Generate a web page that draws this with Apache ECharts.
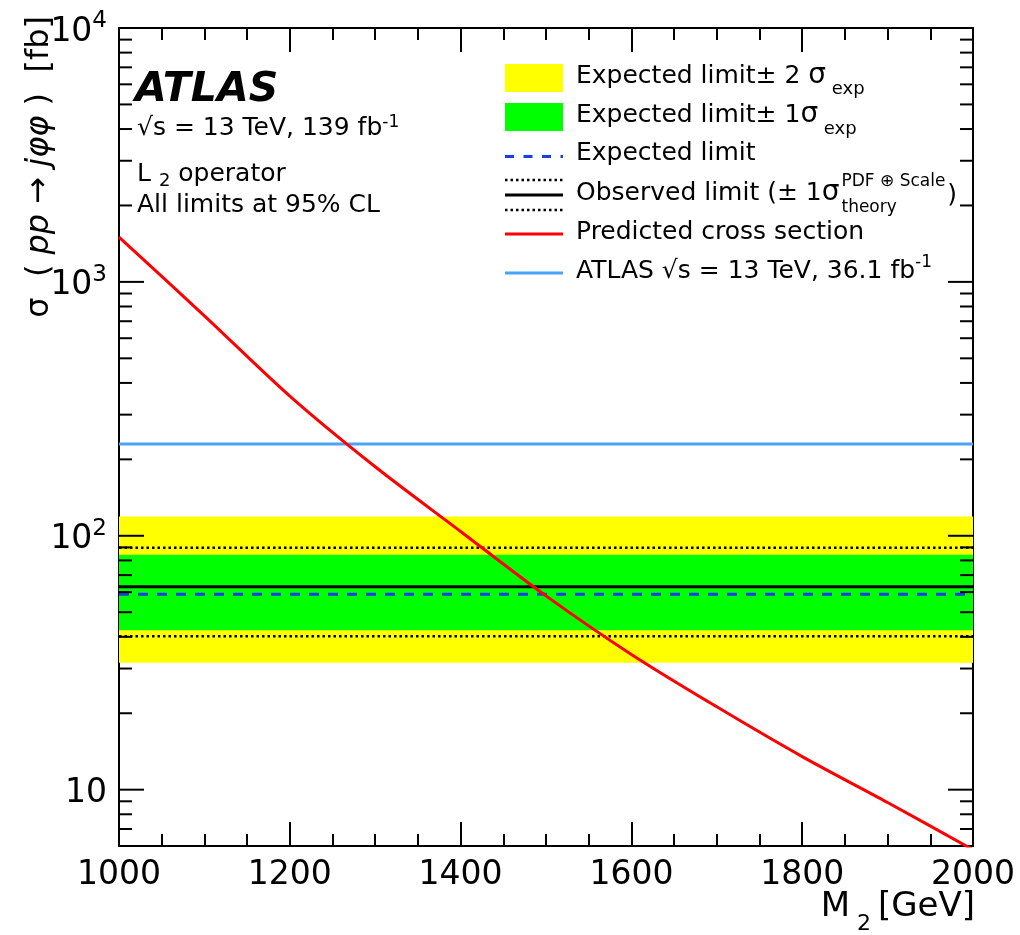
<!DOCTYPE html>
<html>
<head>
<meta charset="utf-8">
<script src="https://cdn.jsdelivr.net/npm/echarts@6/dist/echarts.min.js"></script>
<style>
html, body { margin: 0; padding: 0; background: #fff; }
#chart { width: 1020px; height: 935px; }
</style>
</head>
<body>
<div id="chart"></div>
<script>
// Predicted L2 cross section versus mediator mass M2 (GeV, fb)
const predMass = [1000, 1100, 1200, 1300, 1400, 1500, 1600, 1700, 1800, 1900, 2000];
const predXsec = [1500, 735, 355, 187, 104, 58, 34.1, 21.2, 13.5, 8.9, 5.8];

// Mass-independent limits (fb)
const massRange = [1000, 2000];
const expectedLimit = 58.9;
const expected1Sigma = [42.5, 84.2];
const expected2Sigma = [31.6, 119];
const observedLimit = 63.0;
const observedTheory = [40.2, 89.7];
const atlas36Limit = 230;

// Axis ticks
const xTickStep = 200;
const yMajorTicks = [10, 100, 1000, 10000];
const yMinorTicks = [7, 8, 9, 20, 30, 40, 50, 60, 70, 80, 90,
  200, 300, 400, 500, 600, 700, 800, 900,
  2000, 3000, 4000, 5000, 6000, 7000, 8000, 9000];

const FONT = "'DejaVu Sans', sans-serif";
const BLACK = '#000';

const chart = echarts.init(document.getElementById('chart'), null, { renderer: 'canvas' });

function flatLine(v) {
  return [[massRange[0], v], [massRange[1], v]];
}

function lineSeries(name, v, color, width, dash, z) {
  return {
    name, type: 'line', data: flatLine(v), symbol: 'none', silent: true, z,
    lineStyle: { color, width, type: dash || 'solid' }
  };
}

function bandSeries(name, range, color, z) {
  return {
    name, type: 'custom', silent: true, z,
    data: [[massRange[0], massRange[1], range[0], range[1]]],
    encode: { x: [0, 1], y: [2, 3] },
    renderItem: (params, api) => {
      const a = api.coord([api.value(0), api.value(3)]);
      const b = api.coord([api.value(1), api.value(2)]);
      return { type: 'rect', shape: { x: a[0], y: a[1], width: b[0] - a[0], height: b[1] - a[1] },
               style: { fill: color } };
    }
  };
}

// Log-axis ticks on both the left and right frame edges
const yTickData = yMajorTicks.map(v => [massRange[0], v, 1]).concat(yMinorTicks.map(v => [massRange[0], v, 0]));
const yTickSeries = {
  type: 'custom', silent: true, z: 20,
  data: yTickData, encode: { x: 0, y: 1 },
  renderItem: (params, api) => {
    const v = api.value(1);
    const len = api.value(2) ? 25 : 13;
    const l = api.coord([massRange[0], v]);
    const r = api.coord([massRange[1], v]);
    const st = { stroke: BLACK, lineWidth: 2 };
    return { type: 'group', children: [
      { type: 'line', shape: { x1: l[0], y1: l[1], x2: l[0] + len, y2: l[1] }, style: st },
      { type: 'line', shape: { x1: r[0] - len, y1: r[1], x2: r[0], y2: r[1] }, style: st }
    ] };
  }
};

const xAxisBase = {
  type: 'value', min: massRange[0], max: massRange[1], interval: xTickStep,
  axisLine: { show: true, onZero: false, lineStyle: { color: BLACK, width: 2 } },
  axisTick: { show: true, inside: true, length: 24, lineStyle: { color: BLACK, width: 2 } },
  minorTick: { show: true, splitNumber: 4, length: 12, lineStyle: { color: BLACK, width: 2 } },
  splitLine: { show: false }, minorSplitLine: { show: false }
};

const yAxisBase = {
  type: 'log', logBase: 10, min: 6, max: 10000,
  axisLine: { show: true, onZero: false, lineStyle: { color: BLACK, width: 2 } },
  axisTick: { show: false }, minorTick: { show: false },
  splitLine: { show: false }, minorSplitLine: { show: false }
};

// Measure text so stacked scripts can follow the legend text
const measureCtx = document.createElement('canvas').getContext('2d');
function textWidth(str, size) {
  measureCtx.font = size + 'px ' + FONT;
  return measureCtx.measureText(str).width;
}

function richText(x, y, text, rich, align) {
  return {
    type: 'text', x, y, silent: true, z: 30,
    style: { text, rich, fill: BLACK, fontFamily: FONT, fontSize: 25,
             align: align || 'left', verticalAlign: 'middle' }
  };
}

const R = (size, extra) => Object.assign({ fontSize: size, fontFamily: FONT, fill: BLACK, color: BLACK }, extra || {});

const legX0 = 505, legX1 = 563, legTextX = 576;
const obsMain = 'Observed limit (± 1';
const obsSigmaX = legTextX + textWidth(obsMain, 25);
const obsScriptX = obsSigmaX + textWidth('σ', 28) + 2;
const obsCloseX = obsScriptX + textWidth('PDF ⊕ Scale', 17) + 2;

const graphics = [
  // Experiment label block
  { type: 'text', x: 135, y: 90, silent: true, z: 30,
    style: { text: 'ATLAS', fill: BLACK, fontFamily: FONT, fontSize: 41, fontWeight: 'bold',
             fontStyle: 'italic', align: 'left', verticalAlign: 'middle' } },
  richText(137, 128, '{n|√s = 13 TeV, 139 fb}{p|-1}', { n: R(25), p: R(17, { padding: [0, 0, 10, 0] }) }),
  richText(137, 174, '{n|L }{s|2}{n| operator}', { n: R(25), s: R(18, { padding: [14, 0, 0, 0] }) }),
  richText(137, 205, '{n|All limits at 95% CL}', { n: R(25) }),

  // Legend symbols
  { type: 'rect', z: 30, silent: true, shape: { x: legX0, y: 64, width: legX1 - legX0, height: 28 }, style: { fill: '#ffff00' } },
  { type: 'rect', z: 30, silent: true, shape: { x: legX0, y: 103, width: legX1 - legX0, height: 28 }, style: { fill: '#00ff00' } },
  { type: 'line', z: 30, silent: true, shape: { x1: legX0, y1: 156.5, x2: legX1, y2: 156.5 }, style: { stroke: '#193cf0', lineWidth: 3, lineDash: [9, 9.5] } },
  { type: 'line', z: 30, silent: true, shape: { x1: legX0, y1: 180, x2: legX1, y2: 180 }, style: { stroke: BLACK, lineWidth: 2.5, lineDash: [2.5, 3] } },
  { type: 'line', z: 30, silent: true, shape: { x1: legX0, y1: 195, x2: legX1, y2: 195 }, style: { stroke: BLACK, lineWidth: 3 } },
  { type: 'line', z: 30, silent: true, shape: { x1: legX0, y1: 210, x2: legX1, y2: 210 }, style: { stroke: BLACK, lineWidth: 2.5, lineDash: [2.5, 3] } },
  { type: 'line', z: 30, silent: true, shape: { x1: legX0, y1: 234, x2: legX1, y2: 234 }, style: { stroke: '#ff0000', lineWidth: 3 } },
  { type: 'line', z: 30, silent: true, shape: { x1: legX0, y1: 273, x2: legX1, y2: 273 }, style: { stroke: '#4ba3f5', lineWidth: 3 } },

  // Legend labels
  richText(legTextX, 76, '{n|Expected limit± 2 }{g|σ}{s| exp}', { n: R(25), g: R(28), s: R(18, { padding: [26, 0, 0, 0] }) }),
  richText(legTextX, 115, '{n|Expected limit± 1}{g|σ}{s| exp}', { n: R(25), g: R(28), s: R(18, { padding: [28, 0, 0, 0] }) }),
  richText(legTextX, 153, '{n|Expected limit}', { n: R(25) }),
  richText(legTextX, 193, '{n|' + obsMain + '}', { n: R(25) }),
  richText(obsSigmaX, 193, '{g|σ}', { g: R(28) }),
  richText(obsScriptX, 182, '{t|PDF ⊕ Scale}', { t: R(17) }),
  richText(obsScriptX, 208, '{t|theory}', { t: R(17) }),
  richText(obsCloseX, 195, '{n|)}', { n: R(25) }),
  richText(legTextX, 232, '{n|Predicted cross section}', { n: R(25) }),
  richText(legTextX, 271, '{n|ATLAS √s = 13 TeV, 36.1 fb}{p|-1}', { n: R(25), p: R(17, { padding: [0, 0, 16, 0] }) }),

  // Axis titles
  { type: 'text', x: 40, y: 16, rotation: Math.PI / 2, silent: true, z: 30,
    style: { text: '{r|σ  ( }{i|pp}{r| → }{i|jφφ}{r| )  [fb]}',
             rich: { r: R(32), i: R(32, { fontStyle: 'italic' }) },
             fill: BLACK, fontFamily: FONT, fontSize: 32, align: 'right', verticalAlign: 'middle' } },
  richText(975, 907, '{b|M}{s| 2 }{b|[GeV]}', { b: R(34), s: R(22, { padding: [34, 0, 0, 0] }) }, 'right')
];

const option = {
  animation: false,
  backgroundColor: '#fff',
  grid: { left: 119, right: 47, top: 28, bottom: 89, containLabel: false },
  xAxis: [
    Object.assign({}, xAxisBase, {
      position: 'bottom',
      axisLabel: { show: true, color: BLACK, fontFamily: FONT, fontSize: 33, margin: 13,
                   formatter: v => String(v) }
    }),
    Object.assign({}, xAxisBase, { position: 'top', axisLabel: { show: false } })
  ],
  yAxis: [
    Object.assign({}, yAxisBase, {
      position: 'left',
      axisLabel: {
        show: true, margin: 12, color: BLACK, fontFamily: FONT,
        formatter: v => {
          const e = Math.log10(v);
          const r = Math.round(e);
          if (Math.abs(e - r) > 1e-6) return '';
          return r === 1 ? '{b|10}' : '{b|10}{p|' + r + '}';
        },
        rich: {
          b: { fontSize: 33, fontFamily: FONT, color: BLACK, padding: [8, 0, 0, 0] },
          p: { fontSize: 23, fontFamily: FONT, color: BLACK, padding: [0, 0, 14, 0] }
        }
      }
    }),
    Object.assign({}, yAxisBase, { position: 'right', axisLabel: { show: false } })
  ],
  series: [
    bandSeries('Expected limit ± 2σ', expected2Sigma, '#ffff00', 1),
    bandSeries('Expected limit ± 1σ', expected1Sigma, '#00ff00', 2),
    lineSeries('Observed +1σ theory', observedTheory[1], BLACK, 2.5, [2.5, 3], 3),
    lineSeries('Observed -1σ theory', observedTheory[0], BLACK, 2.5, [2.5, 3], 3),
    lineSeries('Observed limit', observedLimit, BLACK, 3, null, 4),
    lineSeries('Expected limit', expectedLimit, '#193cf0', 3, [10, 9], 5),
    lineSeries('ATLAS 36.1 fb-1', atlas36Limit, '#4ba3f5', 3, null, 5),
    {
      name: 'Predicted cross section', type: 'line', z: 6, silent: true, symbol: 'none',
      smooth: 0.3, clip: true,
      data: predMass.map((m, i) => [m, predXsec[i]]),
      lineStyle: { color: '#ff0000', width: 3 }
    },
    yTickSeries
  ],
  graphic: graphics
};

chart.setOption(option);
</script>
</body>
</html>
